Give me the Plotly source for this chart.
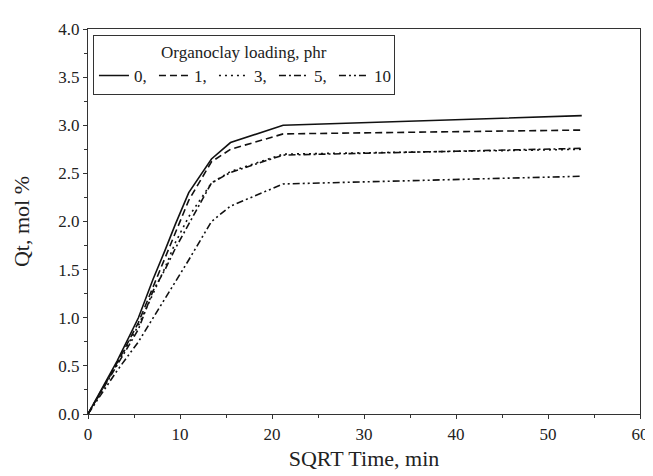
import plotly.graph_objects as go

x_sqrt_time = [0, 3.16, 5.48, 7.07, 8.37, 9.49, 10.95, 13.42, 15.49, 21.21, 53.67]
q_0 = [0, 0.55, 1.00, 1.40, 1.70, 1.97, 2.30, 2.65, 2.82, 3.00, 3.10]
q_1 = [0, 0.53, 0.95, 1.32, 1.62, 1.88, 2.22, 2.62, 2.75, 2.91, 2.95]
q_3 = [0, 0.52, 0.92, 1.26, 1.52, 1.78, 2.05, 2.40, 2.52, 2.70, 2.75]
q_5 = [0, 0.50, 0.88, 1.28, 1.50, 1.72, 1.97, 2.40, 2.51, 2.69, 2.76]
q_10 = [0, 0.45, 0.75, 1.00, 1.19, 1.38, 1.60, 2.00, 2.16, 2.39, 2.47]

names = ["0,", "1,", "3,", "5,", "10"]
series = [q_0, q_1, q_3, q_5, q_10]
dashes = ["solid", "7px,4px", "2px,4px", "7px,3px,2px,3px", "7px,3px,2px,3px,2px,3px"]

FONT = "Liberation Serif"

fig = go.Figure()
for n, s, d in zip(names, series, dashes):
    fig.add_trace(go.Scatter(x=x_sqrt_time, y=s, mode="lines", name=n,
                             line=dict(color="#111111", width=1.6, dash=d)))

axis_common = dict(showgrid=False, zeroline=False, showline=True, linecolor="#333333",
                   linewidth=1.2, mirror=True, ticks="outside", ticklen=4, tickwidth=1,
                   tickcolor="#333333", tickfont=dict(family=FONT, size=17, color="#222222"))

fig.update_xaxes(range=[0, 60], dtick=10, tick0=0,
                 minor=dict(dtick=5, ticks="outside", ticklen=3, tickcolor="#333333"),
                 title=dict(text="SQRT Time, min", font=dict(family=FONT, size=22, color="#222222"),
                            standoff=8),
                 **axis_common)
fig.update_yaxes(range=[0, 4.0], dtick=0.5, tick0=0, tickformat=".1f",
                 minor=dict(dtick=0.25, ticks="outside", ticklen=3, tickcolor="#333333"),
                 title=dict(text="Qt, mol %", font=dict(family=FONT, size=22, color="#222222"),
                            standoff=22),
                 **axis_common)

fig.update_layout(
    width=653, height=476,
    margin=dict(l=80, r=16, t=13, b=70),
    paper_bgcolor="white", plot_bgcolor="white",
    font=dict(family=FONT, size=17, color="#222222"),
    legend=dict(orientation="h", x=0.009, y=0.985, xanchor="left", yanchor="top",
                bordercolor="#333333", borderwidth=1, bgcolor="white",
                title=dict(text="Organoclay loading, phr", side="top center",
                           font=dict(family=FONT, size=17)),
                font=dict(family=FONT, size=17),
                entrywidth=15, tracegroupgap=0, itemwidth=30),
    showlegend=True,
)

fig.write_html("out.html")
